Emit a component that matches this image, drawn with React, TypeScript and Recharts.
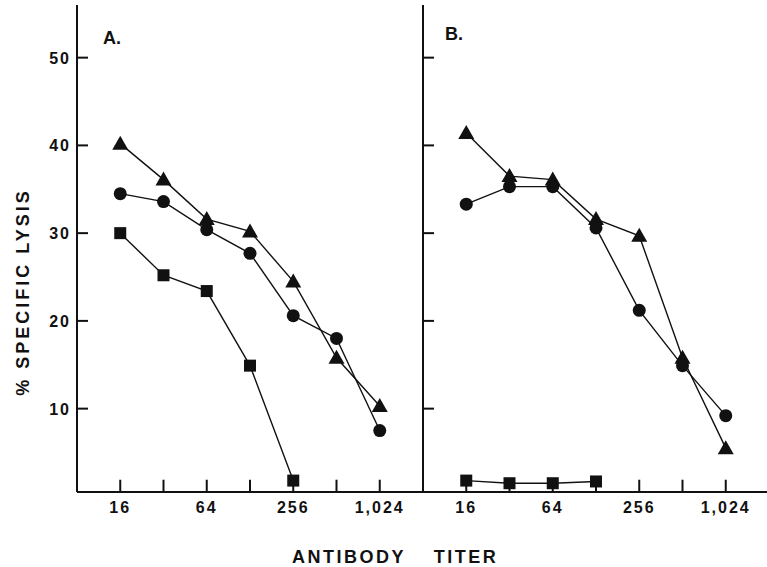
import { Line, LineChart, ReferenceLine, XAxis, YAxis } from "recharts"

// antibody titers, plotted on a log2 axis
const titers = [16, 32, 64, 128, 256, 512, 1024]
const xTicks = [4, 5, 6, 7, 8, 9, 10]
const xLabels = ["16", "", "64", "", "256", "", "1,024"]
const yTicks = [10, 20, 30, 40, 50]

// panel A
const aTriangle = [40.2, 36.1, 31.6, 30.2, 24.5, 15.8, 10.3]
const aCircle = [34.5, 33.6, 30.4, 27.7, 20.6, 18.0, 7.5]
const aSquare = [30.0, 25.2, 23.4, 14.9, 1.8]

// panel B
const bTriangle = [41.4, 36.5, 36.1, 31.6, 29.7, 15.8, 5.5]
const bCircle = [33.3, 35.3, 35.3, 30.6, 21.2, 14.9, 9.2]
const bSquare = [1.8, 1.5, 1.5, 1.7]

const yMin = 0.5
const yMax = 56
const ink = "#111"
const font = "'Liberation Sans', Arial, sans-serif"

function rows(tri: number[], circ: number[], sq: number[]) {
  return titers.map((t, i) => ({ x: Math.log2(t), tri: tri[i], circ: circ[i], sq: sq[i] }))
}

const TriangleDot = (p: any) => {
  if (p.cy == null || p.value == null) return <g key={p.index} />
  const { cx, cy } = p
  return <polygon key={p.index} points={`${cx},${cy - 8} ${cx - 8},${cy + 6} ${cx + 8},${cy + 6}`} fill={ink} />
}

const CircleDot = (p: any) => {
  if (p.cy == null || p.value == null) return <g key={p.index} />
  return <circle key={p.index} cx={p.cx} cy={p.cy} r={6.5} fill={ink} />
}

const SquareDot = (p: any) => {
  if (p.cy == null || p.value == null) return <g key={p.index} />
  return <rect key={p.index} x={p.cx - 6} y={p.cy - 6} width={12} height={12} fill={ink} />
}

const XTick = ({ x, y, payload }: any) => (
  <text x={x} y={y + 21} textAnchor="middle" fontSize={16} fontWeight="bold" letterSpacing={2} fill={ink} fontFamily={font}>
    {xLabels[xTicks.indexOf(payload.value)]}
  </text>
)

const makeYTick = (showLabel: boolean) => ({ x, y, payload }: any) => (
  <g>
    <line x1={x} x2={x + 11} y1={y} y2={y} stroke={ink} strokeWidth={2} />
    {showLabel && (
      <text x={x - 6} y={y + 6} textAnchor="end" fontSize={16} fontWeight="bold" letterSpacing={2} fill={ink} fontFamily={font}>
        {payload.value}
      </text>
    )}
  </g>
)

function Panel({ data, left, yLabels }: { data: any[]; left: number; yLabels: boolean }) {
  return (
    <LineChart width={left + 346} height={567} data={data} margin={{ top: 5, right: 0, left: 0, bottom: 45 }}>
      <XAxis
        dataKey="x"
        type="number"
        domain={[3, 11]}
        ticks={xTicks}
        tick={<XTick />}
        tickLine={false}
        tickSize={0}
        tickMargin={0}
        height={30}
        axisLine={{ stroke: ink, strokeWidth: 2 }}
        allowDataOverflow
      />
      <YAxis
        type="number"
        domain={[yMin, yMax]}
        ticks={yTicks}
        tick={makeYTick(yLabels)}
        tickLine={false}
        tickSize={0}
        tickMargin={0}
        width={left}
        axisLine={{ stroke: ink, strokeWidth: 2 }}
        allowDataOverflow
      />
      {/* short inward tick marks on the titer axis */}
      {xTicks.map((t) => (
        <ReferenceLine
          key={t}
          segment={[{ x: t, y: yMin }, { x: t, y: yMin + 1.4 }]}
          stroke={ink}
          strokeWidth={2}
          ifOverflow="visible"
        />
      ))}
      <Line dataKey="tri" stroke={ink} strokeWidth={1.4} dot={TriangleDot} activeDot={false} isAnimationActive={false} />
      <Line dataKey="circ" stroke={ink} strokeWidth={1.4} dot={CircleDot} activeDot={false} isAnimationActive={false} />
      <Line dataKey="sq" stroke={ink} strokeWidth={1.4} dot={SquareDot} activeDot={false} isAnimationActive={false} />
    </LineChart>
  )
}

export default function App() {
  return (
    <div style={{ position: "absolute", left: 0, top: 0, width: 767, height: 567, overflow: "hidden", background: "#fff" }}>
      <div style={{ position: "absolute", left: 0, top: 0 }}>
        <Panel data={rows(aTriangle, aCircle, aSquare)} left={77} yLabels />
      </div>
      <div style={{ position: "absolute", left: 380, top: 0 }}>
        <Panel data={rows(bTriangle, bCircle, bSquare)} left={43} yLabels={false} />
      </div>
      <svg width={767} height={567} style={{ position: "absolute", left: 0, top: 0, pointerEvents: "none" }}>
        <g fontFamily={font} fontWeight="bold" fill={ink}>
          <text x={103} y={44} fontSize={18}>A.</text>
          <text x={445} y={40} fontSize={18}>B.</text>
          <text x={349} y={563} fontSize={18} letterSpacing={2.5} textAnchor="middle">ANTIBODY</text>
          <text x={466} y={563} fontSize={18} letterSpacing={2.5} textAnchor="middle">TITER</text>
          <text x={29} y={292} fontSize={18} letterSpacing={3} textAnchor="middle" transform="rotate(-90 29 292)">
            % SPECIFIC LYSIS
          </text>
        </g>
      </svg>
    </div>
  )
}
